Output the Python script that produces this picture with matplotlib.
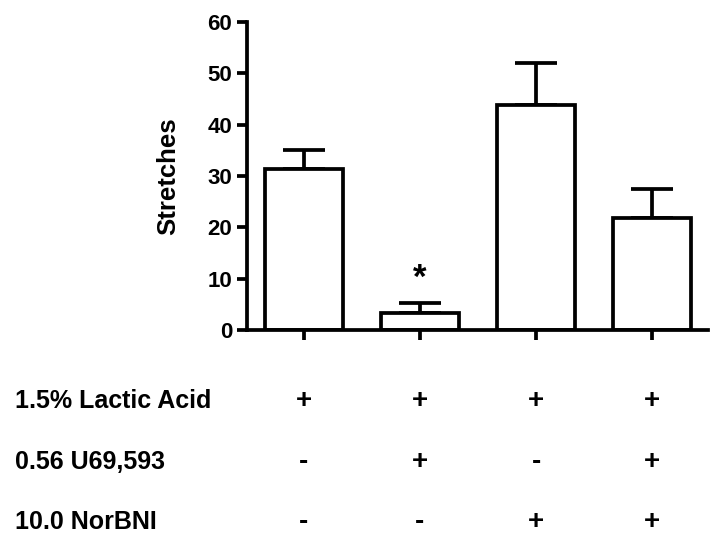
import matplotlib
matplotlib.use("Agg")
import matplotlib.pyplot as plt

plt.rcParams['font.family'] = ['Liberation Sans', 'DejaVu Sans']
plt.rcParams['font.weight'] = 'bold'

# bar data (mean + upper SEM)
groups = [0, 1, 2, 3]
means = [31.3, 3.3, 43.8, 21.8]
errors = [3.8, 2.0, 8.2, 5.7]

# treatment table under the chart
row_labels = ["1.5% Lactic Acid", "0.56 U69,593", "10.0 NorBNI"]
row_signs = [["+", "+", "+", "+"],
             ["-", "+", "-", "+"],
             ["-", "-", "+", "+"]]
row_y = [-0.232, -0.427, -0.622]   # axes fraction

lw = 2.7

fig = plt.figure(figsize=(7.24, 5.45), dpi=100)
ax = fig.add_axes([0.341, 0.3945, 0.637, 0.5651])

ax.bar(groups, means, width=0.67, facecolor='white', edgecolor='black',
       linewidth=lw, zorder=2)
ax.errorbar(groups, means, yerr=[[0] * 4, errors], fmt='none', ecolor='black',
            elinewidth=lw, capsize=15, capthick=lw, zorder=1)

# significance mark
ax.text(1, means[1] + errors[1] + 1.6, "*", ha='center', va='bottom',
        fontsize=25, fontweight='bold')

ax.set_xlim(-0.49, 3.48)
ax.set_ylim(0, 60)
ax.set_yticks([0, 10, 20, 30, 40, 50, 60])
ax.set_xticks(groups)
ax.set_xticklabels([])
ax.set_ylabel("Stretches", fontsize=18.5, fontweight='bold')
ax.yaxis.set_label_coords(-0.144, 0.5)

for s in ['top', 'right']:
    ax.spines[s].set_visible(False)
for s in ['left', 'bottom']:
    ax.spines[s].set_linewidth(lw)
ax.tick_params(axis='both', width=lw, length=7, labelsize=16, direction='out')
for t in ax.get_yticklabels():
    t.set_fontweight('bold')

tr = ax.get_xaxis_transform()
for label, signs, y in zip(row_labels, row_signs, row_y):
    ax.text(-2.49, y, label, transform=tr, ha='left', va='center',
            fontsize=18, fontweight='bold', clip_on=False)
    for g, s in zip(groups, signs):
        ax.text(g, y, s, transform=tr, ha='center', va='center',
                fontsize=20, fontweight='bold', clip_on=False)

fig.savefig("out.png", dpi=100)
